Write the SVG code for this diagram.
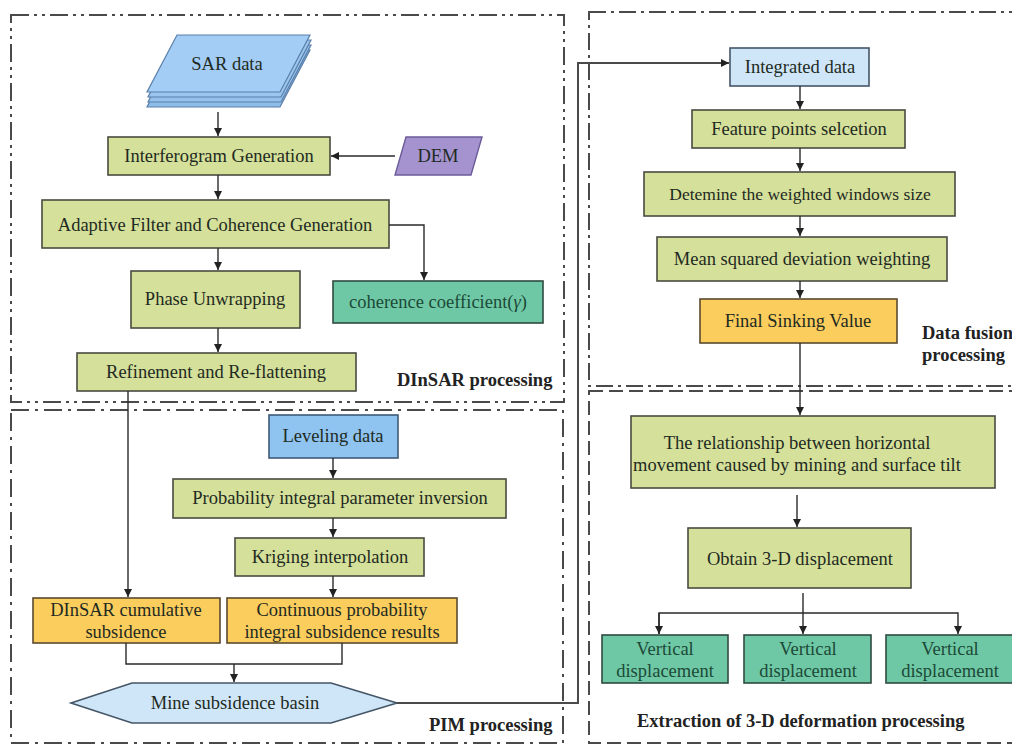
<svg xmlns="http://www.w3.org/2000/svg" width="1012" height="746" viewBox="0 0 1012 746">
<defs>
<marker id="arr" viewBox="0 0 8 8" refX="8" refY="4" markerWidth="8" markerHeight="8" markerUnits="userSpaceOnUse" orient="auto"><path d="M0,0 L8,4 L0,8 z" fill="#222"/></marker>
<style>
.t{font-family:"Liberation Serif","Times New Roman",serif;font-size:18.5px;fill:#1e2a22;text-anchor:middle}
.tt{fill:#1c4a37}
.lb{font-family:"Liberation Serif","Times New Roman",serif;font-size:18.5px;font-weight:bold;fill:#222}
.g{fill:#d5e09b;stroke:#4a4a40;stroke-width:1.6}
.o{fill:#fbcd5c;stroke:#5a4a30;stroke-width:1.6}
.tl{fill:#6fc8a5;stroke:#2f4a40;stroke-width:1.6}
.lbx{fill:#cfe6f8;stroke:#445566;stroke-width:1.6}
.c{fill:none;stroke:#2a2a2a;stroke-width:1.4}
.p{fill:none;stroke:#4a4a4a;stroke-width:2}
</style>
</defs>
<rect x="0" y="0" width="1012" height="746" fill="#ffffff"/>

<g id="panels">
  <rect class="p" x="11" y="15" width="553" height="387" stroke-dasharray="18 5 3 5 3 5"/>
  <rect class="p" x="589" y="12" width="440" height="374" stroke-dasharray="17 5 3 5"/>
  <rect class="p" x="11" y="410" width="552" height="333" stroke-dasharray="18 6 3 6"/>
  <rect class="p" x="589" y="391" width="440" height="352" stroke-dasharray="14 6"/>
  <text class="lb" x="397" y="386">DInSAR processing</text>
  <text class="lb" x="922" y="339">Data fusion</text>
  <text class="lb" x="922" y="361">processing</text>
  <text class="lb" x="429" y="731">PIM processing</text>
  <text class="lb" x="637" y="727">Extraction of 3-D deformation processing</text>
</g>

<g id="sar-data">
  <polygon points="177,50 310,50 280,107 147,107" fill="#8fbde9" stroke="#5a7fa8" stroke-width="1.2"/>
  <polygon points="178,45 311,45 281,102 148,102" fill="#95c2ec" stroke="#5a7fa8" stroke-width="1.2"/>
  <polygon points="178,40 311,40 281,97 148,97" fill="#9ac6ef" stroke="#5a7fa8" stroke-width="1.2"/>
  <polygon points="177,35 310,35 280,92 147,92" fill="#a3cdf5" stroke="#5a7fa8" stroke-width="1.2"/>
  <text class="t" x="227" y="70">SAR data</text>
</g>
<g id="interferogram">
  <rect class="g" x="108" y="137" width="222" height="38"/>
  <text class="t" x="219" y="162">Interferogram Generation</text>
</g>
<g id="dem">
  <polygon points="406,137 482,137 471,175 395,175" fill="#a493cf" stroke="#6b5c99" stroke-width="1.4"/>
  <text class="t" x="438" y="162">DEM</text>
</g>
<g id="adaptive">
  <rect class="g" x="42" y="200" width="347" height="48"/>
  <text class="t" x="215" y="231">Adaptive Filter and Coherence Generation</text>
</g>
<g id="phase">
  <rect class="g" x="131" y="271" width="169" height="57"/>
  <text class="t" x="215" y="305">Phase Unwrapping</text>
</g>
<g id="coherence">
  <rect class="tl" x="333" y="281" width="210" height="42"/>
  <text class="t tt" x="438" y="308">coherence coefficient(<tspan font-style="italic">γ</tspan>)</text>
</g>
<g id="refinement">
  <rect class="g" x="77" y="353" width="279" height="38"/>
  <text class="t" x="216" y="378">Refinement and Re-flattening</text>
</g>

<g id="integrated">
  <rect class="lbx" x="730" y="48" width="139" height="38"/>
  <text class="t" x="800" y="73">Integrated data</text>
</g>
<g id="feature">
  <rect class="g" x="692" y="110" width="213" height="38"/>
  <text class="t" x="799" y="135">Feature points selcetion</text>
</g>
<g id="window">
  <rect class="g" x="644" y="172" width="311" height="44"/>
  <text class="t" x="800" y="200" style="font-size:17.5px">Detemine the weighted windows size</text>
</g>
<g id="msd">
  <rect class="g" x="657" y="237" width="290" height="44"/>
  <text class="t" x="802" y="265">Mean squared deviation weighting</text>
</g>
<g id="final">
  <rect class="o" x="700" y="299" width="197" height="44"/>
  <text class="t" x="798" y="327">Final Sinking Value</text>
</g>

<g id="leveling">
  <rect x="269" y="415" width="129" height="43" fill="#8fc3f0" stroke="#3f5a78" stroke-width="1.6"/>
  <text class="t" x="333" y="442">Leveling data</text>
</g>
<g id="pinversion">
  <rect class="g" x="173" y="479" width="333" height="39"/>
  <text class="t" x="340" y="504">Probability integral parameter inversion</text>
</g>
<g id="kriging">
  <rect class="g" x="235" y="538" width="189" height="38"/>
  <text class="t" x="330" y="563">Kriging interpolation</text>
</g>
<g id="dinsar-cum">
  <rect class="o" x="33" y="598" width="187" height="45"/>
  <text class="t" x="126" y="616">DInSAR cumulative</text>
  <text class="t" x="126" y="638">subsidence</text>
</g>
<g id="continuous">
  <rect class="o" x="227" y="598" width="230" height="45"/>
  <text class="t" x="342" y="616">Continuous probability</text>
  <text class="t" x="342" y="638">integral subsidence results</text>
</g>
<g id="basin">
  <polygon class="lbx" points="71,703 132,683 331,683 397,703 331,723 132,723"/>
  <text class="t" x="235" y="709">Mine subsidence basin</text>
</g>

<g id="relationship">
  <rect class="g" x="631" y="416" width="364" height="72"/>
  <text class="t" x="797" y="449">The relationship between horizontal</text>
  <text class="t" x="797" y="471">movement caused by mining and surface tilt</text>
</g>
<g id="obtain">
  <rect class="g" x="688" y="528" width="223" height="60"/>
  <text class="t" x="800" y="565">Obtain 3-D displacement</text>
</g>
<g id="vd1">
  <rect class="tl" x="602" y="635" width="126" height="48"/>
  <text class="t tt" x="665" y="655">Vertical</text>
  <text class="t tt" x="665" y="677">displacement</text>
</g>
<g id="vd2">
  <rect class="tl" x="744" y="635" width="127" height="48"/>
  <text class="t tt" x="808" y="655">Vertical</text>
  <text class="t tt" x="808" y="677">displacement</text>
</g>
<g id="vd3">
  <rect class="tl" x="886" y="635" width="130" height="48"/>
  <text class="t tt" x="950" y="655">Vertical</text>
  <text class="t tt" x="950" y="677">displacement</text>
</g>

<g id="connectors">
  <path class="c" d="M218,112 V136" marker-end="url(#arr)"/>
  <path class="c" d="M395,156 H331" marker-end="url(#arr)"/>
  <path class="c" d="M218,175 V199" marker-end="url(#arr)"/>
  <path class="c" d="M389,225 H424 V280" marker-end="url(#arr)"/>
  <path class="c" d="M218,248 V270" marker-end="url(#arr)"/>
  <path class="c" d="M218,328 V352" marker-end="url(#arr)"/>
  <path class="c" d="M128,391 V597" marker-end="url(#arr)"/>
  <path class="c" d="M333,458 V478" marker-end="url(#arr)"/>
  <path class="c" d="M333,518 V537" marker-end="url(#arr)"/>
  <path class="c" d="M333,576 V597" marker-end="url(#arr)"/>
  <path class="c" d="M126,643 V664 H342 V643"/>
  <path class="c" d="M234,664 V682" marker-end="url(#arr)"/>
  <path d="M397,703 H578 V63 H729" fill="none" stroke="#4a4a4a" stroke-width="2" marker-end="url(#arr)"/>
  <path class="c" d="M800,86 V109" marker-end="url(#arr)"/>
  <path class="c" d="M800,148 V171" marker-end="url(#arr)"/>
  <path class="c" d="M800,216 V236" marker-end="url(#arr)"/>
  <path class="c" d="M800,281 V298" marker-end="url(#arr)"/>
  <path class="c" d="M800,343 V415" marker-end="url(#arr)"/>
  <path class="c" d="M797,495 V527" marker-end="url(#arr)"/>
  <path class="c" d="M803,593 V634" marker-end="url(#arr)"/>
  <path class="c" d="M659,634 V613 H958 V634" marker-end="url(#arr)"/>
  <path class="c" d="M659,613 V634" marker-end="url(#arr)"/>
</g>
</svg>
